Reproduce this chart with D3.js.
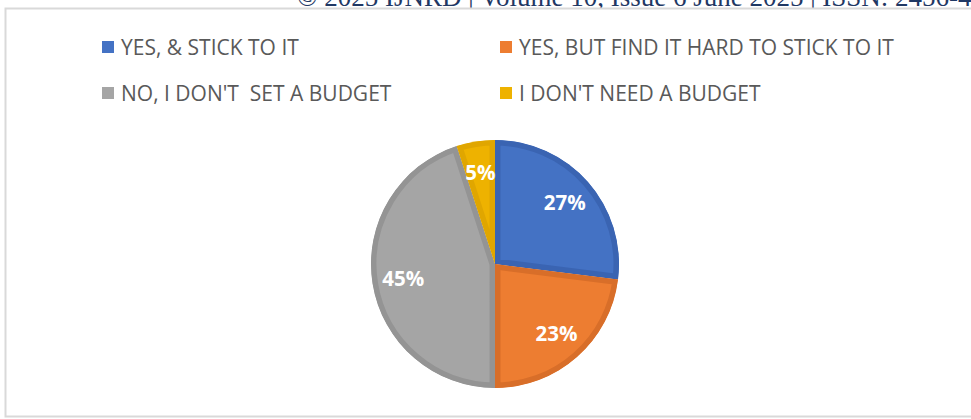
<!DOCTYPE html>
<html>
<head>
<meta charset="utf-8">
<script src="https://cdn.jsdelivr.net/npm/d3@7"></script>
<style>
  html, body { margin: 0; padding: 0; background: #fff; }
  svg { display: block; }
</style>
</head>
<body>
<svg id="chart" width="971" height="419"></svg>
<script>
const categories = ["YES, & STICK TO IT", "YES, BUT FIND IT HARD TO STICK TO IT", "NO, I DON'T  SET A BUDGET", "I DON'T NEED A BUDGET"];
const values = [27, 23, 45, 5];
const colors = ["#4472C4", "#ED7D31", "#A5A5A5", "#EEB200"];
const edgeColors = ["#3A64B2", "#D86E29", "#949494", "#E0A600"];
const headerText = "© 2025 IJNRD | Volume 10, Issue 6 June 2025 | ISSN: 2456-4184";

const svg = d3.select("#chart");

// header strip text (cut off at top, as in the source page)
svg.append("text")
  .attr("x", 297).attr("y", 6)
  .attr("font-family", "Liberation Serif, serif")
  .attr("font-size", 27)
  .attr("fill", "#1F3864")
  .text(headerText);

// chart frame
svg.append("rect")
  .attr("x", 5.5).attr("y", 8.5)
  .attr("width", 980).attr("height", 408)
  .attr("fill", "#fff")
  .attr("stroke", "#D9D9D9")
  .attr("stroke-width", 2);

// legend
const legendX = [102, 500];
const legendY = [47, 93];
const legend = svg.append("g");
categories.forEach((c, i) => {
  const col = i % 2, row = Math.floor(i / 2);
  const g = legend.append("g").attr("transform", `translate(${legendX[col]},${legendY[row]})`);
  g.append("rect").attr("x", 0).attr("y", -6).attr("width", 12).attr("height", 12).attr("fill", colors[i]);
  g.append("text").attr("x", 19).attr("y", 0).attr("dy", "0.36em")
    .attr("font-family", "Open Sans, sans-serif")
    .attr("font-size", 21)
    .attr("fill", "#595959")
    .style("white-space", "pre")
    .attr("xml:space", "preserve")
    .text(c);
});

// pie
const cx = 495, cy = 264, r = 124;
const pie = d3.pie().sort(null).value(d => d)(values);
const arc = d3.arc().innerRadius(0).outerRadius(r);
const labelArc = d3.arc().innerRadius(r * 0.75).outerRadius(r * 0.75);
const defs = svg.append("defs");
const pg = svg.append("g").attr("transform", `translate(${cx},${cy})`);

pie.forEach((p, i) => {
  defs.append("clipPath").attr("id", "clip" + i)
    .append("path").attr("d", arc(p));
  pg.append("path")
    .attr("d", arc(p))
    .attr("fill", colors[i])
    .attr("stroke", edgeColors[i])
    .attr("stroke-width", 11)
    .attr("clip-path", `url(#clip${i})`);
});

pie.forEach((p, i) => {
  const [lx, ly] = labelArc.centroid(p);
  pg.append("text")
    .attr("x", lx).attr("y", ly).attr("dy", "0.36em")
    .attr("text-anchor", "middle")
    .attr("font-family", "Open Sans, sans-serif")
    .attr("font-weight", "bold")
    .attr("font-size", 20.5)
    .attr("fill", "#fff")
    .text(values[i] + "%");
});
</script>
</body>
</html>
